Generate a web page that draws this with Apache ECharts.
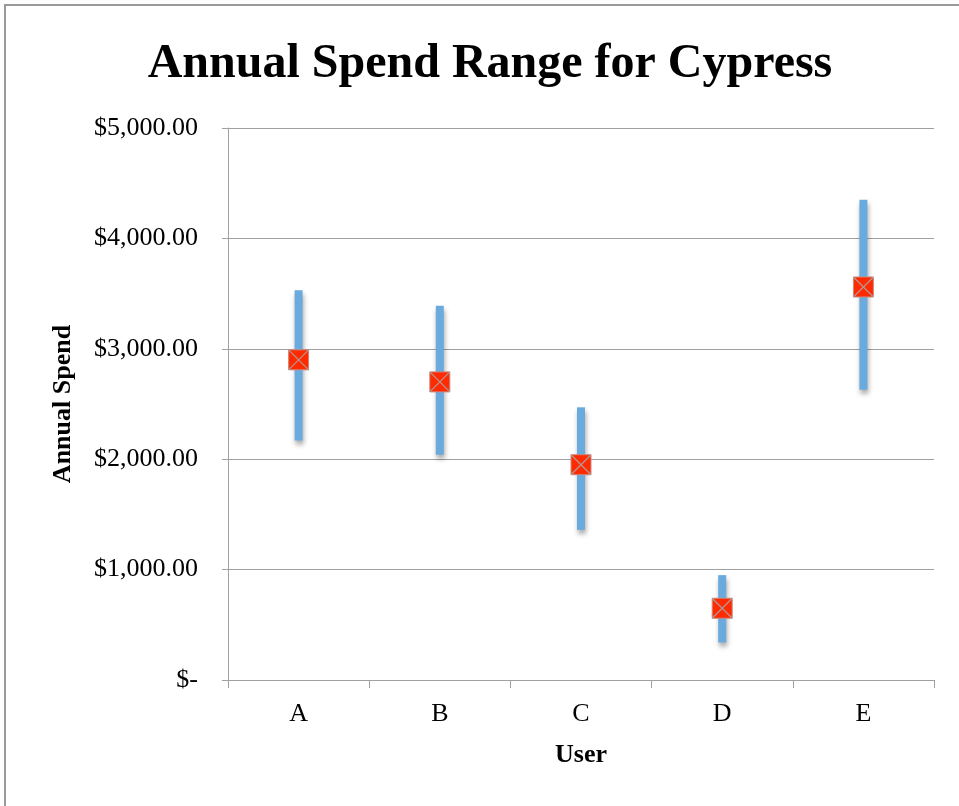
<!DOCTYPE html>
<html>
<head>
<meta charset="utf-8">
<style>
  html, body { margin: 0; padding: 0; background: #fff; }
  #chart { width: 959px; height: 806px; }
</style>
<script src="https://cdn.jsdelivr.net/npm/echarts@6/dist/echarts.min.js"></script>
</head>
<body>
<div id="chart"></div>
<script>
// Spend ranges per user
const users = ['A', 'B', 'C', 'D', 'E'];
const lowSpend = [2170, 2040, 1360, 340, 2630];
const highSpend = [3530, 3390, 2470, 950, 4350];
const typicalSpend = [2900, 2700, 1950, 650, 3560];
const yTickLabels = ['$-', '$1,000.00', '$2,000.00', '$3,000.00', '$4,000.00', '$5,000.00'];

const serif = '"Liberation Serif", "Times New Roman", serif';
const chart = echarts.init(document.getElementById('chart'));

const rangeData = users.map((u, i) => [i, lowSpend[i], highSpend[i]]);
const pointData = users.map((u, i) => [i, typicalSpend[i]]);

chart.setOption({
  animation: false,
  backgroundColor: '#fff',
  title: {
    text: 'Annual Spend Range for Cypress',
    left: 485,
    textAlign: 'center',
    top: 36,
    textStyle: { fontFamily: serif, fontWeight: 'bold', fontSize: 48, color: '#000' }
  },
  graphic: [{
    type: 'rect',
    shape: { x: 5, y: 5, width: 1000, height: 1000 },
    style: { fill: 'none', stroke: '#9a9a9a', lineWidth: 2 },
    silent: true
  }],
  grid: { left: 228, right: 25, top: 128, bottom: 126 },
  xAxis: {
    type: 'category',
    data: users,
    name: 'User',
    nameLocation: 'middle',
    nameGap: 62,
    nameTextStyle: { fontFamily: serif, fontWeight: 'bold', fontSize: 26, color: '#000' },
    axisLine: { lineStyle: { color: '#a0a0a0', width: 1 } },
    axisTick: { show: true, length: 8, lineStyle: { color: '#a0a0a0' } },
    axisLabel: { fontFamily: serif, fontSize: 26, color: '#000', margin: 21 }
  },
  yAxis: {
    type: 'value',
    min: 0,
    max: 5000,
    interval: 1000,
    name: 'Annual Spend',
    nameLocation: 'middle',
    nameGap: 152,
    nameRotate: 90,
    nameTextStyle: { fontFamily: serif, fontWeight: 'bold', fontSize: 26, color: '#000' },
    axisLine: { show: true, lineStyle: { color: '#a0a0a0', width: 1 } },
    axisTick: { show: true, length: 6, lineStyle: { color: '#a0a0a0' } },
    splitLine: { lineStyle: { color: '#a0a0a0', width: 1 } },
    axisLabel: {
      fontFamily: serif, fontSize: 26, color: '#000', margin: 30,
      formatter: v => yTickLabels[Math.round(v / 1000)]
    }
  },
  series: [
    {
      // vertical low–high range bars
      type: 'custom',
      data: rangeData,
      encode: { x: 0, y: [1, 2] },
      z: 2,
      renderItem: (params, api) => {
        const lo = api.coord([api.value(0), api.value(1)]);
        const hi = api.coord([api.value(0), api.value(2)]);
        const w = 8;
        return {
          type: 'rect',
          shape: { x: lo[0] - w / 2, y: hi[1], width: w, height: lo[1] - hi[1] },
          style: {
            fill: '#6aaadd',
            shadowColor: 'rgba(0,0,0,0.35)',
            shadowBlur: 5,
            shadowOffsetX: 1,
            shadowOffsetY: 4
          }
        };
      }
    },
    {
      // typical spend markers: red square with a cross
      type: 'custom',
      data: pointData,
      encode: { x: 0, y: 1 },
      z: 3,
      renderItem: (params, api) => {
        const p = api.coord([api.value(0), api.value(1)]);
        const h = 10;
        return {
          type: 'group',
          children: [
            {
              type: 'rect',
              shape: { x: p[0] - h, y: p[1] - h, width: 2 * h, height: 2 * h },
              style: { fill: '#ff2a00', stroke: '#c98a80', lineWidth: 1 }
            },
            {
              type: 'line',
              shape: { x1: p[0] - h, y1: p[1] - h, x2: p[0] + h, y2: p[1] + h },
              style: { stroke: '#b09a95', lineWidth: 1.2 }
            },
            {
              type: 'line',
              shape: { x1: p[0] + h, y1: p[1] - h, x2: p[0] - h, y2: p[1] + h },
              style: { stroke: '#b09a95', lineWidth: 1.2 }
            }
          ]
        };
      }
    }
  ]
});
</script>
</body>
</html>
